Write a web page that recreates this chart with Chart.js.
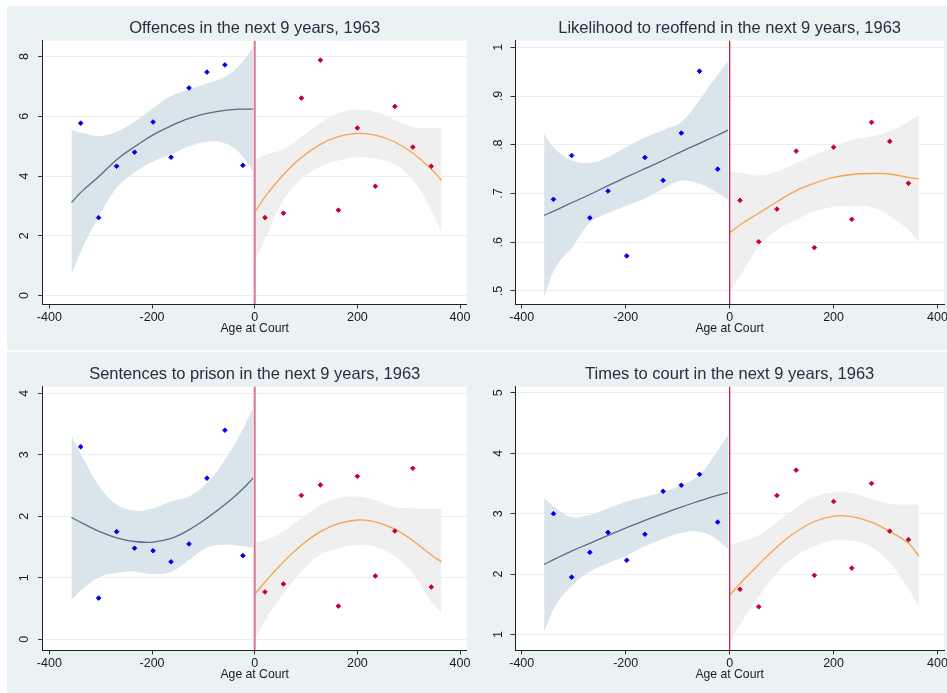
<!DOCTYPE html>
<html>
<head>
<meta charset="utf-8">
<script src="https://cdn.jsdelivr.net/npm/chart.js@4.4.1/dist/chart.umd.min.js"></script>
<style>
html, body { margin: 0; padding: 0; background: #fff; overflow: hidden; width: 947px; height: 693px; }
.row { position: absolute; background: #EAF2F3; }
canvas { position: absolute; }
</style>
</head>
<body>
<div class="row" style="left:7px;top:6px;width:940px;height:344px"></div>
<div class="row" style="left:7px;top:352px;width:940px;height:341px"></div>
<canvas id="offences" width="467" height="344" style="left:7px;top:6px"></canvas>
<canvas id="reoffend" width="478" height="344" style="left:474px;top:6px"></canvas>
<canvas id="prison" width="467" height="344" style="left:7px;top:352px"></canvas>
<canvas id="court" width="478" height="344" style="left:474px;top:352px"></canvas>
<script>
// running variable: days between birthday and court date, cut-off at 0
var cutoff = 0;
var xTicks = [-400, -200, 0, 200, 400];

// bin centres for the binned means
var binsBelow = [-339, -304, -269, -234, -198, -163, -128, -93, -58, -23];
var binsAbove = [20, 56, 91, 128, 163, 200, 235, 273, 308, 344];

// x positions where the quadratic fits and their 95% CI are sampled
var fitXBelow = [-357, -334, -302, -269, -234, -198, -163, -128, -93, -58, -29, -3];
var fitXAbove = [1, 23, 55, 91, 128, 163, 200, 235, 273, 307, 344, 364];

// Offences in the next 9 years
var offencesBelow = [5.77, 2.61, 4.33, 4.80, 5.81, 4.63, 6.95, 7.48, 7.72, 4.36];
var offencesAbove = [2.61, 2.76, 6.61, 7.88, 2.86, 5.61, 3.66, 6.33, 4.97, 4.33];
var offencesFitBelow = [3.12, 3.53, 4.01, 4.55, 4.98, 5.38, 5.68, 5.93, 6.10, 6.20, 6.24, 6.24];
var offencesHiBelow = [5.54, 5.43, 5.34, 5.48, 5.82, 6.27, 6.68, 6.90, 7.10, 7.32, 7.72, 8.31];
var offencesLoBelow = [0.69, 1.65, 2.70, 3.60, 4.12, 4.48, 4.72, 5.00, 5.15, 5.10, 4.76, 4.15];
var offencesFitAbove = [2.81, 3.37, 4.03, 4.62, 5.06, 5.32, 5.43, 5.37, 5.14, 4.78, 4.23, 3.86];
var offencesHiAbove = [4.54, 4.72, 4.90, 5.32, 5.77, 6.10, 6.23, 6.15, 5.88, 5.65, 5.60, 5.60];
var offencesLoAbove = [1.20, 2.00, 3.16, 3.90, 4.32, 4.52, 4.63, 4.58, 4.40, 3.90, 2.86, 2.12];
var offencesTicks = [0, 2, 4, 6, 8];
var offencesLabels = ['0', '2', '4', '6', '8'];

// Likelihood to reoffend in the next 9 years
var reoffendBelow = [0.688, 0.778, 0.650, 0.705, 0.572, 0.774, 0.727, 0.824, 0.951, 0.750];
var reoffendAbove = [0.686, 0.601, 0.668, 0.787, 0.589, 0.795, 0.647, 0.846, 0.807, 0.721];
var reoffendFitBelow = [0.655, 0.666, 0.682, 0.698, 0.716, 0.734, 0.751, 0.768, 0.786, 0.803, 0.817, 0.830];
var reoffendHiBelow = [0.822, 0.790, 0.767, 0.763, 0.775, 0.796, 0.815, 0.830, 0.847, 0.892, 0.935, 0.971];
var reoffendLoBelow = [0.488, 0.550, 0.591, 0.640, 0.660, 0.675, 0.690, 0.710, 0.726, 0.720, 0.705, 0.687];
var reoffendFitAbove = [0.620, 0.638, 0.659, 0.683, 0.706, 0.721, 0.733, 0.739, 0.741, 0.740, 0.733, 0.730];
var reoffendHiAbove = [0.745, 0.742, 0.737, 0.745, 0.762, 0.779, 0.796, 0.810, 0.817, 0.827, 0.847, 0.861];
var reoffendLoAbove = [0.499, 0.536, 0.588, 0.625, 0.646, 0.663, 0.673, 0.675, 0.672, 0.655, 0.625, 0.601];
var reoffendTicks = [0.5, 0.6, 0.7, 0.8, 0.9, 1];
var reoffendLabels = ['.5', '.6', '.7', '.8', '.9', '1'];

// Sentences to prison in the next 9 years
var prisonBelow = [3.13, 0.67, 1.75, 1.48, 1.44, 1.26, 1.55, 2.62, 3.40, 1.36];
var prisonAbove = [0.77, 0.90, 2.34, 2.51, 0.54, 2.65, 1.03, 1.76, 2.78, 0.85];
var prisonFitBelow = [1.98, 1.88, 1.75, 1.65, 1.59, 1.58, 1.64, 1.78, 1.97, 2.19, 2.40, 2.62];
var prisonHiBelow = [3.31, 2.94, 2.48, 2.19, 2.09, 2.13, 2.24, 2.32, 2.54, 2.92, 3.32, 3.76];
var prisonLoBelow = [0.64, 0.83, 1.01, 1.08, 1.10, 1.06, 1.10, 1.29, 1.49, 1.54, 1.52, 1.49];
var prisonFitAbove = [0.74, 0.96, 1.25, 1.53, 1.75, 1.88, 1.94, 1.91, 1.79, 1.61, 1.37, 1.26];
var prisonHiAbove = [1.58, 1.62, 1.75, 1.97, 2.18, 2.29, 2.32, 2.26, 2.15, 2.13, 2.12, 2.12];
var prisonLoAbove = [0.01, 0.34, 0.74, 1.10, 1.38, 1.48, 1.53, 1.50, 1.35, 1.08, 0.61, 0.42];
var prisonTicks = [0, 1, 2, 3, 4];
var prisonLabels = ['0', '1', '2', '3', '4'];

// Times to court in the next 9 years
var courtBelow = [3.00, 1.95, 2.36, 2.69, 2.23, 2.66, 3.37, 3.47, 3.65, 2.86];
var courtAbove = [1.75, 1.46, 3.30, 3.72, 1.98, 3.20, 2.10, 3.50, 2.71, 2.57];
var courtFitBelow = [2.16, 2.26, 2.39, 2.51, 2.64, 2.77, 2.89, 3.00, 3.11, 3.21, 3.29, 3.35];
var courtHiBelow = [3.26, 3.09, 2.94, 2.98, 3.09, 3.20, 3.28, 3.36, 3.47, 3.64, 3.97, 4.30];
var courtLoBelow = [1.05, 1.49, 1.82, 2.04, 2.18, 2.31, 2.46, 2.58, 2.68, 2.70, 2.60, 2.41];
var courtFitAbove = [1.66, 1.87, 2.15, 2.45, 2.70, 2.87, 2.96, 2.95, 2.86, 2.71, 2.51, 2.30];
var courtHiAbove = [2.48, 2.54, 2.64, 2.86, 3.10, 3.28, 3.35, 3.34, 3.24, 3.17, 3.15, 3.15];
var courtLoAbove = [0.88, 1.21, 1.62, 2.02, 2.30, 2.46, 2.56, 2.55, 2.45, 2.20, 1.76, 1.46];
var courtTicks = [1, 2, 3, 4, 5];
var courtLabels = ['1', '2', '3', '4', '5'];

var BLUE = '#0000F0';
var RED = '#C8002E';
var FIT_BELOW = '#5A6A86';
var FIT_ABOVE = '#F7A24E';
var CI_BELOW = '#D9E5EB';
var CI_ABOVE = '#EFEFEF';

function pairs(xs, ys) {
    return xs.map(function (x, i) { return { x: x, y: ys[i] }; });
}

// white plot region on the tinted page
var plotBackground = {
    id: 'plotBackground',
    beforeDraw: function (chart) {
        var a = chart.chartArea;
        var ctx = chart.ctx;
        ctx.save();
        ctx.fillStyle = '#ffffff';
        ctx.fillRect(a.left, a.top, a.right - a.left, a.bottom - a.top);
        ctx.restore();
    }
};

// vertical line at the age cut-off
var cutoffLine = {
    id: 'cutoffLine',
    afterDatasetsDraw: function (chart, args, opts) {
        var a = chart.chartArea;
        var x = chart.scales.x.getPixelForValue(cutoff);
        var ctx = chart.ctx;
        ctx.save();
        ctx.strokeStyle = opts.color;
        ctx.lineWidth = opts.width;
        ctx.beginPath();
        ctx.moveTo(x, a.top);
        ctx.lineTo(x, a.bottom);
        ctx.stroke();
        ctx.restore();
    }
};

function initPanel(p) {
    var ctx = document.getElementById(p.id).getContext('2d');
    var band = { pointRadius: 0, borderWidth: 0, tension: 0.4, order: 3 };
    var fit = { pointRadius: 0, borderWidth: 1.3, fill: false, tension: 0.4, order: 2 };
    var dots = { showLine: false, pointStyle: 'rectRot', pointRadius: 2.3, borderWidth: 1, order: 1 };

    return new Chart(ctx, {
        type: 'line',
        data: {
            datasets: [
                Object.assign({ data: pairs(fitXBelow, p.hiBelow), fill: '+1', backgroundColor: CI_BELOW }, band),
                Object.assign({ data: pairs(fitXBelow, p.loBelow), fill: false }, band),
                Object.assign({ data: pairs(fitXAbove, p.hiAbove), fill: '+1', backgroundColor: CI_ABOVE }, band),
                Object.assign({ data: pairs(fitXAbove, p.loAbove), fill: false }, band),
                Object.assign({ data: pairs(fitXBelow, p.fitBelow), borderColor: FIT_BELOW }, fit),
                Object.assign({ data: pairs(fitXAbove, p.fitAbove), borderColor: FIT_ABOVE }, fit),
                Object.assign({ data: pairs(binsBelow, p.below), backgroundColor: BLUE, borderColor: BLUE }, dots),
                Object.assign({ data: pairs(binsAbove, p.above), backgroundColor: RED, borderColor: RED }, dots)
            ]
        },
        options: {
            responsive: false,
            animation: false,
            events: [],
            layout: { padding: { left: 0, top: 0, right: p.padRight, bottom: 0 } },
            plugins: {
                legend: { display: false },
                tooltip: { enabled: false },
                title: {
                    display: true,
                    text: p.title,
                    fullSize: false,
                    color: '#24303E',
                    font: { family: 'Liberation Sans', size: 16.5, weight: 'normal' },
                    padding: { top: 12.1, bottom: 2.8 }
                },
                cutoffLine: { color: p.lineColor, width: p.lineWidth }
            },
            scales: {
                x: {
                    type: 'linear',
                    min: -413,
                    max: 413,
                    afterBuildTicks: function (s) { s.ticks = xTicks.map(function (v) { return { value: v }; }); },
                    afterFit: function (s) { s.height = 46; },
                    grid: { drawOnChartArea: false, tickLength: 4.5, tickColor: '#333' },
                    border: { color: '#222', width: 1 },
                    ticks: {
                        autoSkip: false, maxRotation: 0, padding: 2, color: '#1a1a1a',
                        font: { family: 'Liberation Sans', size: 12.5 }
                    },
                    title: {
                        display: true, text: 'Age at Court', color: '#1a1a1a',
                        font: { family: 'Liberation Sans', size: 12.2 },
                        padding: { top: 0, bottom: 14.2 }
                    }
                },
                y: {
                    min: p.yMin,
                    max: p.yMax,
                    afterBuildTicks: function (s) { s.ticks = p.ticks.map(function (v) { return { value: v }; }); },
                    afterFit: function (s) { s.width = p.axisWidth; },
                    grid: { color: '#E8EFF1', lineWidth: 1, tickLength: 4.5, tickColor: '#333' },
                    border: { color: '#222', width: 1 },
                    ticks: {
                        minRotation: 90, maxRotation: 90, crossAlign: 'center', padding: p.labelPad,
                        color: '#1a1a1a',
                        font: { family: 'Liberation Sans', size: 12.5 },
                        callback: function (v) { return p.labels[p.ticks.indexOf(v)]; }
                    }
                }
            }
        },
        plugins: [plotBackground, cutoffLine]
    });
}

initPanel({
    id: 'offences', title: 'Offences in the next 9 years, 1963',
    below: offencesBelow, above: offencesAbove,
    fitBelow: offencesFitBelow, hiBelow: offencesHiBelow, loBelow: offencesLoBelow,
    fitAbove: offencesFitAbove, hiAbove: offencesHiAbove, loAbove: offencesLoAbove,
    ticks: offencesTicks, labels: offencesLabels, yMin: -0.28, yMax: 8.53,
    axisWidth: 35.7, labelPad: 9.7, padRight: 7.3, lineColor: '#DC7390', lineWidth: 2
});
initPanel({
    id: 'reoffend', title: 'Likelihood to reoffend in the next 9 years, 1963',
    below: reoffendBelow, above: reoffendAbove,
    fitBelow: reoffendFitBelow, hiBelow: reoffendHiBelow, loBelow: reoffendLoBelow,
    fitAbove: reoffendFitAbove, hiAbove: reoffendHiAbove, loAbove: reoffendLoAbove,
    ticks: reoffendTicks, labels: reoffendLabels, yMin: 0.4733, yMax: 1.0135,
    axisWidth: 41, labelPad: 6.5, padRight: 7.7, lineColor: '#CC1F48', lineWidth: 1.3
});
initPanel({
    id: 'prison', title: 'Sentences to prison in the next 9 years, 1963',
    below: prisonBelow, above: prisonAbove,
    fitBelow: prisonFitBelow, hiBelow: prisonHiBelow, loBelow: prisonLoBelow,
    fitAbove: prisonFitAbove, hiAbove: prisonHiAbove, loAbove: prisonLoAbove,
    ticks: prisonTicks, labels: prisonLabels, yMin: -0.174, yMax: 4.107,
    axisWidth: 35.7, labelPad: 9.7, padRight: 7.3, lineColor: '#DC7390', lineWidth: 2
});
initPanel({
    id: 'court', title: 'Times to court in the next 9 years, 1963',
    below: courtBelow, above: courtAbove,
    fitBelow: courtFitBelow, hiBelow: courtHiBelow, loBelow: courtLoBelow,
    fitAbove: courtFitAbove, hiAbove: courtHiAbove, loAbove: courtLoAbove,
    ticks: courtTicks, labels: courtLabels, yMin: 0.745, yMax: 5.10,
    axisWidth: 41, labelPad: 8, padRight: 7.7, lineColor: '#CC1F48', lineWidth: 1.3
});
</script>
</body>
</html>
